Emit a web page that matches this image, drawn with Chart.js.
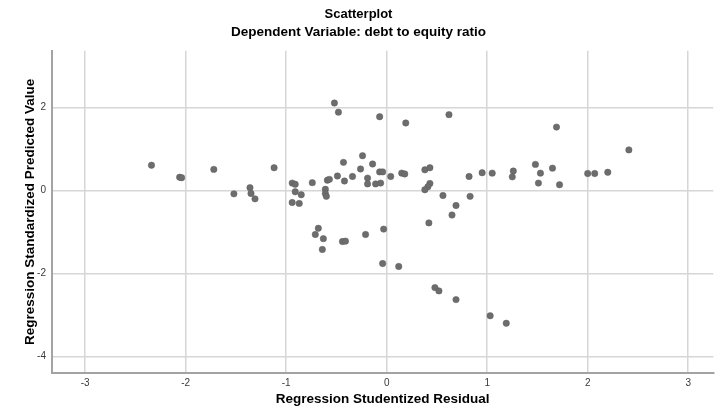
<!DOCTYPE html>
<html>
<head>
<meta charset="utf-8">
<script src="https://cdn.jsdelivr.net/npm/chart.js@4/dist/chart.umd.min.js"></script>
<style>
  html, body { margin: 0; padding: 0; background: #fff; }
  #wrap { width: 717px; height: 417px; }
</style>
</head>
<body>
<div id="wrap"><canvas id="c" width="717" height="417"></canvas></div>
<script>
// ---- data ----
const chartTitle = "Scatterplot";
const chartSubtitle = "Dependent Variable: debt to equity ratio";
const xAxisTitle = "Regression Studentized Residual";
const yAxisTitle = "Regression Standardized Predicted Value";
const xTickValues = [-3, -2, -1, 0, 1, 2, 3];
const yTickValues = [-4, -2, 0, 2];

const studentizedResidual = [
  -2.34, -2.06, -2.04, -1.72, -1.52, -1.36, -1.35, -1.31, -1.12, -0.94, -0.91, -0.91, -0.94, -0.87,
  -0.52, -0.48, -0.07, 0.19, 0.62, -0.24, -0.43, -0.14, -0.26, -0.07, -0.04, 0.15, 0.18, 0.04,
  -0.34, -0.49, -0.42, -0.19, -0.19, -0.11, -0.06, -0.59, -0.57, -0.74, -0.85, -0.61, -0.61, -0.60,
  0.38, 0.43, 0.43, 0.41, 0.38, 0.56, 0.82, 0.83, 0.69, 0.65, 0.95, 1.05, 0.42,
  1.69, 2.41, 1.48, 1.26, 1.25, 1.53, 1.65, 1.51, 1.72, 2.00, 2.07, 2.20,
  -0.68, -0.71, -0.63, -0.64, -0.44, -0.41, -0.21, -0.03, -0.04, 0.12, 0.48, 0.52, 0.69, 1.03, 1.19
];
const standardizedPredicted = [
  0.61, 0.32, 0.31, 0.51, -0.08, 0.07, -0.07, -0.20, 0.55, 0.18, 0.15, -0.03, -0.29, -0.31,
  2.11, 1.89, 1.78, 1.63, 1.83, 0.84, 0.68, 0.64, 0.52, 0.45, 0.45, 0.42, 0.40, 0.34,
  0.34, 0.35, 0.23, 0.30, 0.16, 0.16, 0.18, 0.25, 0.27, 0.19, -0.10, 0.03, -0.07, -0.14,
  0.50, 0.55, 0.17, 0.09, 0.02, -0.12, 0.34, -0.14, -0.36, -0.59, 0.43, 0.42, -0.78,
  1.53, 0.98, 0.63, 0.47, 0.33, 0.42, 0.54, 0.18, 0.14, 0.41, 0.41, 0.44,
  -0.91, -1.06, -1.16, -1.42, -1.23, -1.22, -1.06, -0.93, -1.76, -1.83, -2.34, -2.42, -2.63, -3.02, -3.20
];

const points = studentizedResidual.map((x, i) => ({ x: x, y: standardizedPredicted[i] }));

const FONT = "'Liberation Sans', Arial, sans-serif";
const gridColor = '#d6d6d6';
const axisColor = '#a3a3a3';

new Chart(document.getElementById('c'), {
  type: 'scatter',
  data: {
    datasets: [{
      data: points,
      backgroundColor: '#6d6d6d',
      borderColor: '#5e5e5e',
      borderWidth: 0.5,
      pointRadius: 3.2,
      pointHoverRadius: 3.2
    }]
  },
  options: {
    responsive: false,
    animation: false,
    devicePixelRatio: 1,
    layout: { padding: { left: 0, right: 0, top: 0, bottom: 0 } },
    plugins: {
      legend: { display: false },
      tooltip: { enabled: false },
      title: {
        display: true,
        text: chartTitle,
        color: '#000',
        font: { family: FONT, size: 13, weight: 'bold' },
        padding: { top: 7, bottom: 0 }
      },
      subtitle: {
        display: true,
        text: chartSubtitle,
        color: '#000',
        font: { family: FONT, size: 13.5, weight: 'bold' },
        padding: { top: 2, bottom: 10 }
      }
    },
    scales: {
      x: {
        type: 'linear',
        min: -3.33,
        max: 3.25,
        afterBuildTicks: (s) => { s.ticks = xTickValues.map(v => ({ value: v })); },
        afterFit: (s) => { s.height = 44; },
        grid: { color: gridColor, lineWidth: 1.5, drawTicks: false },
        border: { display: true, color: axisColor, width: 2 },
        ticks: {
          color: '#3a3a3a',
          font: { family: FONT, size: 10 },
          padding: 4,
          maxRotation: 0,
          callback: (v) => String(v)
        },
        title: {
          display: true,
          text: xAxisTitle,
          color: '#000',
          font: { family: FONT, size: 13.5, weight: 'bold' },
          padding: { top: 0, bottom: 10 }
        }
      },
      y: {
        type: 'linear',
        min: -4.4,
        max: 3.37,
        afterBuildTicks: (s) => { s.ticks = yTickValues.map(v => ({ value: v })); },
        afterFit: (s) => { s.width = 52; },
        grid: { color: gridColor, lineWidth: 1.5, drawTicks: false },
        border: { display: true, color: axisColor, width: 2 },
        ticks: {
          color: '#3a3a3a',
          font: { family: FONT, size: 10 },
          padding: 6,
          callback: (v) => String(v)
        },
        title: {
          display: true,
          text: yAxisTitle,
          color: '#000',
          font: { family: FONT, size: 13.5, weight: 'bold' },
          padding: { top: 22, bottom: 0 }
        }
      }
    }
  }
});
</script>
</body>
</html>
